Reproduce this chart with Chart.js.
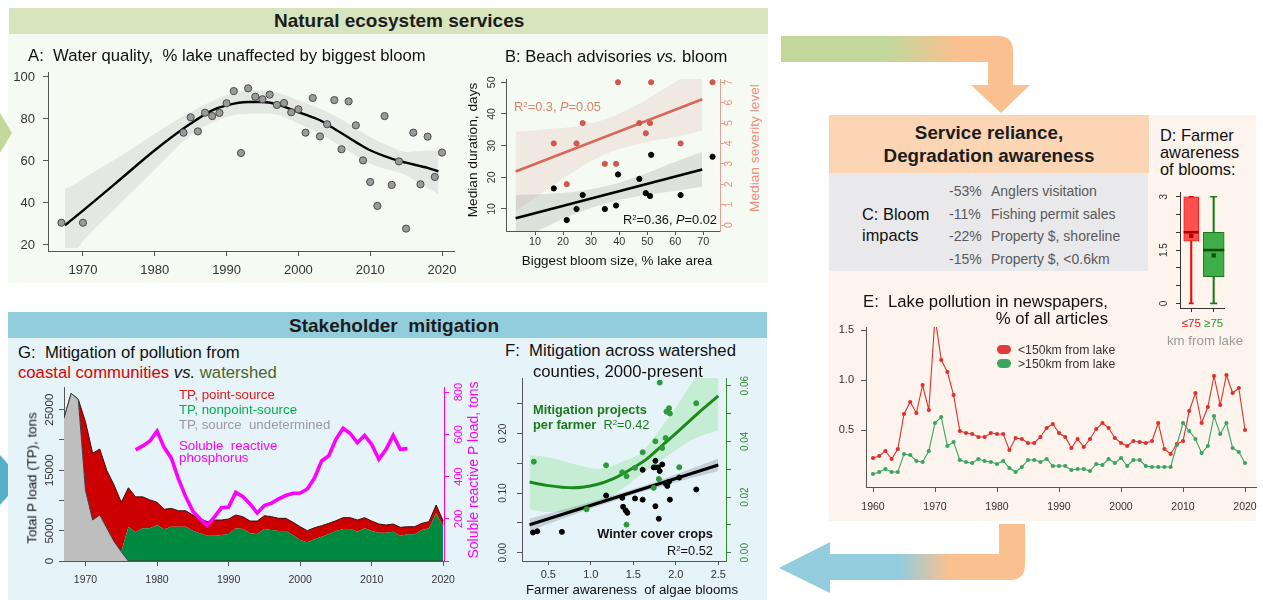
<!DOCTYPE html>
<html>
<head>
<meta charset="utf-8">
<title>Lake ecosystem services, awareness and mitigation</title>
<script src="https://cdn.jsdelivr.net/npm/chart.js@4.4.1/dist/chart.umd.min.js"></script>
<style>
  body { margin: 0; background: #fff; }
  #stage { position: relative; width: 1263px; height: 600px; overflow: hidden; font-family: "Liberation Sans", Arial, sans-serif; }
  .bg { position: absolute; }
  canvas { position: absolute; }
  .t { position: absolute; white-space: pre; line-height: 1; color: #111; }
  .cy { transform: translateY(-50%); }
  .cc { transform: translate(-50%, -50%); }
  .cr { transform: translate(-100%, -50%); }
  .rot { transform: translate(-50%, -50%) rotate(-90deg); }
  .hd { font-weight: bold; font-size: 19px; color: #1c1c1c; }
  .ttl { font-size: 16.7px; }
  sup { font-size: 0.62em; vertical-align: 0.5em; line-height: 0; }
</style>
</head>
<body>
<div id="stage">
  <!-- arrow tip entering the mitigation panel from the left -->
  <svg width="30" height="600" style="position:absolute;left:0;top:0">
    <polygon points="0,455 22,480 0,505" fill="#56b0c8"/>
  </svg>

  <!-- panel backgrounds -->
  <div class="bg" style="left:8px;top:34px;width:760px;height:249px;background:#f5fbf3"></div>
  <div class="bg" style="left:9px;top:8px;width:759px;height:26px;background:#d7e4bd"></div>
  <div class="bg" style="left:829px;top:115px;width:427px;height:406px;background:#fdf4ed"></div>
  <div class="bg" style="left:829px;top:115px;width:320px;height:58px;background:#fcd5b5"></div>
  <div class="bg" style="left:829px;top:173px;width:319px;height:98px;background:#e9e9ec"></div>
  <div class="bg" style="left:8px;top:338px;width:759px;height:262px;background:#e6f3f8"></div>
  <div class="bg" style="left:8px;top:312px;width:759px;height:26px;background:#92cddc"></div>

  <!-- flow arrows -->
  <svg width="1263" height="600" style="position:absolute;left:0;top:0">
    <defs>
      <linearGradient id="gTop" gradientUnits="userSpaceOnUse" x1="781" y1="0" x2="1013" y2="0">
        <stop offset="0.47" stop-color="#c4d79b"/>
        <stop offset="0.76" stop-color="#fac090"/>
      </linearGradient>
      <linearGradient id="gBot" gradientUnits="userSpaceOnUse" x1="779" y1="0" x2="1025" y2="0">
        <stop offset="0.49" stop-color="#93cddd"/>
        <stop offset="0.69" stop-color="#fac090"/>
      </linearGradient>
    </defs>
    <path d="M781,36 L998,36 Q1013,36 1013,51 L1013,85 L1030,85 L1001,113 L971,85 L988,85 L988,62 L781,62 Z" fill="url(#gTop)"/>
    <path d="M999,524 L1025,524 L1025,565 Q1025,580 1010,580 L830,580 L830,593 L779,568 L830,542 L830,554 L999,554 Z" fill="url(#gBot)"/>
    <polygon points="0,113 12,133 0,153" fill="#c4d79b"/>
  </svg>

  <!-- headers -->
  <div class="t cy hd" style="left:274px;top:20px">Natural ecosystem services</div>
  <div class="t cy hd" style="left:289px;top:324.5px">Stakeholder  mitigation</div>
  <div class="t cc" style="left:989px;top:133px;font-weight:bold;font-size:18.8px;color:#1c1c1c">Service reliance,</div>
  <div class="t cc" style="left:989px;top:156px;font-weight:bold;font-size:18.8px;color:#1c1c1c">Degradation awareness</div>

  <!-- A -->
  <div class="t cy ttl" style="left:28px;top:56px">A:  Water quality,  % lake unaffected by biggest bloom</div>

  <!-- B -->
  <div class="t cy" style="left:505px;top:57px;font-size:16.6px">B: Beach advisories <i>vs.</i> bloom</div>
  <div class="t cy" style="left:514px;top:107px;font-size:12.8px;color:#e0806e">R<sup>2</sup>=0.3, <i>P</i>=0.05</div>
  <div class="t cr" style="left:717px;top:220px;font-size:12.8px">R<sup>2</sup>=0.36, <i>P</i>=0.02</div>
  <div class="t cc" style="left:617px;top:261px;font-size:13.4px">Biggest bloom size, % lake area</div>
  <div class="t rot" style="left:473px;top:149.5px;font-size:13.7px">Median duration, days</div>
  <div class="t rot" style="left:755px;top:147.5px;font-size:13.7px;color:#f08c78">Median severity level</div>

  <!-- C -->
  <div class="t cy" style="left:862px;top:214px;font-size:16.4px">C: Bloom</div>
  <div class="t cy" style="left:862px;top:235px;font-size:16.4px">impacts</div>
  <div class="t cy" style="left:949px;top:191px;font-size:14px;color:#595959">-53%</div>
  <div class="t cy" style="left:991px;top:191px;font-size:14px;color:#595959">Anglers visitation</div>
  <div class="t cy" style="left:949px;top:213.5px;font-size:14px;color:#595959">-11%</div>
  <div class="t cy" style="left:991px;top:213.5px;font-size:14px;color:#595959">Fishing permit sales</div>
  <div class="t cy" style="left:949px;top:236px;font-size:14px;color:#595959">-22%</div>
  <div class="t cy" style="left:991px;top:236px;font-size:14px;color:#595959">Property $, shoreline</div>
  <div class="t cy" style="left:949px;top:258.5px;font-size:14px;color:#595959">-15%</div>
  <div class="t cy" style="left:991px;top:258.5px;font-size:14px;color:#595959">Property $, &lt;0.6km</div>

  <!-- D -->
  <div class="t cy" style="left:1160px;top:135px;font-size:16.4px">D: Farmer</div>
  <div class="t cy" style="left:1160px;top:152px;font-size:16.4px">awareness</div>
  <div class="t cy" style="left:1160px;top:169px;font-size:16.4px">of blooms:</div>
  <div class="t cc" style="left:1205px;top:341px;font-size:13.3px;color:#9a9a9a">km from lake</div>

  <!-- E -->
  <div class="t cy ttl" style="left:863px;top:302px">E:  Lake pollution in newspapers,</div>
  <div class="t cr ttl" style="left:1108px;top:319px">% of all articles</div>
  <div class="bg" style="left:997px;top:345px;width:14px;height:9px;border-radius:5px;background:#e03a3a"></div>
  <div class="bg" style="left:997px;top:359px;width:14px;height:9px;border-radius:5px;background:#3ca561"></div>
  <div class="t cy" style="left:1018px;top:349.5px;font-size:12.2px;color:#333">&lt;150km from lake</div>
  <div class="t cy" style="left:1018px;top:363.7px;font-size:12.2px;color:#333">&gt;150km from lake</div>

  <!-- G -->
  <div class="t cy ttl" style="left:18px;top:353px">G:  Mitigation of pollution from</div>
  <div class="t cy ttl" style="left:18px;top:373px"><span style="color:#dd0000">coastal communities</span> <i>vs.</i> <span style="color:#4f6228">watershed</span></div>
  <div class="t cy" style="left:179px;top:395px;font-size:13.3px;color:#e31a1c">TP, point-source</div>
  <div class="t cy" style="left:179px;top:410px;font-size:13.3px;color:#00b050">TP, nonpoint-source</div>
  <div class="t cy" style="left:179px;top:424.5px;font-size:13.3px;color:#9a9a9a">TP, source  undetermined</div>
  <div class="t cy" style="left:179px;top:446px;font-size:13.3px;color:#ff00ff">Soluble  reactive</div>
  <div class="t cy" style="left:179px;top:457.5px;font-size:13.3px;color:#ff00ff">phosphorus</div>
  <div class="t rot" style="left:32px;top:478px;font-size:13.3px">Total P load (TP), tons</div>
  <div class="t rot" style="left:473px;top:470px;font-size:14px;color:#ff00ff">Soluble reactive P load, tons</div>

  <!-- F -->
  <div class="t cy ttl" style="left:505px;top:351px">F:  Mitigation across watershed</div>
  <div class="t cy ttl" style="left:533px;top:372px">counties, 2000-present</div>
  <div class="t cy" style="left:533px;top:410px;font-size:12.8px;font-weight:bold;color:#1b7a1b">Mitigation projects</div>
  <div class="t cy" style="left:533px;top:425px;font-size:12.8px;color:#1b7a1b"><b>per farmer</b>  R<sup>2</sup>=0.42</div>
  <div class="t cr" style="left:713px;top:534px;font-size:12.8px;font-weight:bold">Winter cover crops</div>
  <div class="t cr" style="left:713px;top:551px;font-size:12.8px">R<sup>2</sup>=0.52</div>
  <div class="t cc" style="left:632px;top:590px;font-size:13.3px">Farmer awareness  of algae blooms</div>
</div>

<script>
// ---------- A: water quality ----------
const yearsA = [1967,1970,1984,1985,1986,1987,1988,1989,1990,1991,1992,1993,1994,1995,1996,1997,1998,1999,2000,2001,2002,2003,2004,2005,2006,2007,2008,2009,2010,2011,2012,2013,2014,2015,2016,2017,2018,2019,2020];
const unaffectedA = [30.6,30.6,73.5,80.8,74.1,83.0,81.4,82.9,87.5,93.3,63.8,94.6,90.6,89.4,91.6,86.7,87.6,83.2,84.6,73.5,90.0,71.7,77.5,89.0,65.6,88.4,77.0,60.3,50.0,38.6,81.4,48.6,59.8,27.8,73.5,48.9,71.6,52.4,64.0];
const fitYearsA = [1967.5,1970,1975,1980,1985,1988,1990,1993,1995,1997,2000,2003,2005,2008,2010,2013,2015,2018,2019.5];
const fitA = [29.4,36.4,50.7,65.1,77.8,84.1,86.5,88.1,88.1,87.0,83.3,79.4,75.4,69.0,65.1,61.1,59.2,56.7,55.1];
const bandYearsA = [1967.5,1969.2,1970,1975,1980,1985,1990,1993,1996,2000,2005,2010,2013,2015,2017,2019.5];
const upperA = [46.5,49.8,51.6,61.9,73.0,83.3,91.3,93.7,93.3,88.9,81.7,71.4,66.7,64.3,64.8,65.1];
const lowerA = [18.6,18.6,21.9,39.0,56.0,72.2,81.0,82.5,82.5,77.8,69.0,58.7,55.5,53.2,49.0,44.4];

// ---------- B: beach advisories ----------
const bloomB = [16.7,21.3,24.8,27.0,34.9,38.9,39.6,47.2,49.5,51.0,51.4,61.9,73.3];
const durationB = [16.5,6.5,10.0,14.4,10.0,11.1,20.9,19.5,15.0,14.1,27.1,14.4,26.5];
const severityB = [4.0,2.0,4.0,5.0,3.0,3.0,7.0,5.0,4.5,5.0,7.0,4.0,7.0];
const fitXB = [3.1,69.6];
const durFitB = [7.05,22.5];
const sevFitB = [2.62,6.17];
const bandXB = [3.1,15,25,37,50,60,69.6];
const durUpperB = [14.45,14.8,15.5,17.6,21.4,24.9,28.0];
const durLowerB = [-0.35,4.8,8.7,12.2,14.5,15.7,17.0];
const sevUpperB = [4.57,4.71,4.84,5.28,6.17,7.01,7.72];
const sevLowerB = [0.67,1.81,2.74,3.58,4.07,4.31,4.62];

// ---------- D: farmer awareness by distance ----------
const distGroups = ['\u226475','\u226575'];
const boxQ1 = [1.75,0.75];
const boxMedian = [2.0,1.5];
const boxQ3 = [3.0,2.0];
const boxMin = [0,0];
const boxMax = [3,3];
const boxMean = [1.9,1.35];

// ---------- E: newspaper coverage ----------
const yearsE = [1960,1961,1962,1963,1964,1965,1966,1967,1968,1969,1970,1971,1972,1973,1974,1975,1976,1977,1978,1979,1980,1981,1982,1983,1984,1985,1986,1987,1988,1989,1990,1991,1992,1993,1994,1995,1996,1997,1998,1999,2000,2001,2002,2003,2004,2005,2006,2007,2008,2009,2010,2011,2012,2013,2014,2015,2016,2017,2018,2019,2020];
const nearE = [0.22,0.24,0.29,0.21,0.31,0.66,0.78,0.67,0.95,0.70,1.63,1.20,1.08,0.85,0.49,0.47,0.46,0.43,0.43,0.47,0.46,0.46,0.30,0.42,0.41,0.37,0.37,0.43,0.52,0.56,0.47,0.43,0.32,0.41,0.33,0.41,0.51,0.57,0.52,0.42,0.37,0.34,0.39,0.38,0.37,0.39,0.57,0.31,0.26,0.36,0.39,0.69,0.87,0.57,0.73,1.04,0.75,1.05,0.87,0.92,0.50];
const farE = [0.06,0.08,0.11,0.08,0.08,0.26,0.25,0.19,0.18,0.29,0.57,0.63,0.34,0.38,0.20,0.18,0.17,0.21,0.19,0.18,0.16,0.19,0.12,0.08,0.13,0.20,0.20,0.18,0.21,0.14,0.14,0.14,0.10,0.11,0.11,0.09,0.16,0.15,0.21,0.17,0.22,0.14,0.20,0.20,0.14,0.13,0.13,0.13,0.13,0.35,0.57,0.49,0.41,0.27,0.34,0.64,0.46,0.57,0.32,0.28,0.17];

// ---------- G: phosphorus loads ----------
const yearsG = [1967,1968,1969,1970,1971,1972,1973,1974,1975,1976,1977,1978,1979,1980,1981,1982,1983,1984,1985,1986,1987,1988,1989,1990,1991,1992,1993,1994,1995,1996,1997,1998,1999,2000,2001,2002,2003,2004,2005,2006,2007,2008,2009,2010,2011,2012,2013,2014,2015,2016,2017,2018,2019,2020];
const undeterminedG = [23600,27700,26700,11700,6770,7600,5400,3200,1540,0,0,0,0,0,0,0,0,0,0,0,0,0,0,0,0,0,0,0,0,0,0,0,0,0,0,0,0,0,0,0,0,0,0,0,0,0,0,0,0,0,0,0,0,0];
const nonpointG = [0,0,0,0,0,0,0,0,0,5670,4740,5400,5400,5950,5230,5670,5670,5670,5010,4570,4180,4180,4300,4460,5400,5290,4570,4460,5290,5120,4960,4960,4300,3470,3080,3580,4020,4460,4960,5290,5290,4850,5400,4960,4680,4680,4850,4180,4400,4400,5120,5400,7870,5670];
const pointG = [0,0,0,11300,11030,10900,9500,9350,8160,6430,5860,5200,4700,3750,3310,3030,2630,2630,2590,2480,2320,2590,2470,2480,2200,2030,2030,2140,2200,2200,2090,2090,2090,2200,1930,1920,1820,1760,1700,1870,1870,1920,1760,1640,1430,1270,1260,1380,1270,1270,1100,1100,1380,930];
const yearsSRP = [1977,1978,1979,1980,1981,1982,1983,1984,1985,1986,1987,1988,1989,1990,1991,1992,1993,1994,1995,1996,1997,1998,1999,2000,2001,2002,2003,2004,2005,2006,2007,2008,2009,2010,2011,2012,2013,2014,2015];
const srpG = [526,545,568,615,537,487,388,305,236,200,169,208,252,255,325,305,270,227,263,274,294,310,321,322,341,393,474,498,576,628,604,560,595,552,482,529,595,529,532];

// ---------- F: mitigation vs awareness ----------
const awareCoverF = [0.32,0.37,0.66,1.18,1.37,1.38,1.41,1.43,1.52,1.61,1.61,1.74,1.76,1.76,1.79,1.81,1.80,1.84,1.88,1.90,1.92,1.93,2.04,2.24];
const coverCropsF = [0.034,0.036,0.035,0.096,0.092,0.077,0.071,0.067,0.091,0.139,0.089,0.143,0.154,0.078,0.143,0.137,0.057,0.148,0.116,0.112,0.119,0.089,0.126,0.106];
const awareProjF = [0.33,0.95,1.18,1.37,1.42,1.42,1.52,1.61,1.74,1.76,1.76,1.80,1.81,1.84,1.88,1.89,1.92,1.93,2.04,2.24];
const projectsF = [0.0327,0.0156,0.0314,0.0289,0.0275,0.0101,0.0305,0.0361,0.0233,0.0400,0.0307,0.0265,0.0611,0.0376,0.0412,0.0507,0.0519,0.0500,0.0307,0.0537];
const coverFitXF = [0.28,2.5];
const coverFitF = [0.047,0.147];
const coverBandXF = [0.28,1.0,1.6,2.0,2.5];
const coverUpperF = [0.057,0.085,0.111,0.131,0.158];
const coverLowerF = [0.037,0.074,0.102,0.118,0.137];
const projFitXF = [0.28,0.48,0.79,1.07,1.26,1.46,1.66,1.85,2.05,2.25,2.5];
const projFitF = [0.0254,0.0242,0.0233,0.0245,0.0265,0.0298,0.0337,0.0388,0.0442,0.0498,0.0563];
const projBandXF = [0.28,0.5,0.8,1.1,1.4,1.6,1.8,2.0,2.2,2.5];
const projUpperF = [0.0349,0.0343,0.0319,0.0301,0.0330,0.0361,0.0438,0.0521,0.0615,0.0720];
const projLowerF = [0.0155,0.0146,0.0146,0.0176,0.0236,0.0283,0.0325,0.0369,0.0408,0.0440];

// ---------- helpers ----------
const FONT = '"Liberation Sans", Arial, sans-serif';
const AX = '#555';
const NONE = 'rgba(0,0,0,0)';
Chart.defaults.font.family = FONT;

const pts = (xs, ys) => xs.map((x, i) => ({x, y: ys[i]}));

// rotated y tick labels, drawn at the scale's own tick positions
const ROT = {};
Chart.register({
  id: 'rotTicks',
  afterDraw(chart) {
    const list = ROT[chart.canvas.id];
    if (!list) return;
    const ctx = chart.ctx;
    list.forEach(a => {
      const s = chart.scales[a.axis];
      ctx.save();
      ctx.font = a.size + 'px ' + FONT;
      ctx.fillStyle = a.color;
      ctx.textAlign = 'center';
      ctx.textBaseline = 'middle';
      a.values.forEach((v, i) => {
        const y = s.getPixelForValue(v);
        const x = a.side === 'left' ? s.right - a.offset : s.left + a.offset;
        ctx.save();
        ctx.translate(x, y);
        ctx.rotate(-Math.PI / 2);
        ctx.fillText(a.labels[i], 0, 0);
        ctx.restore();
      });
      ctx.restore();
    });
  }
});

function axis(pos, min, max, ticks, o) {
  const horiz = pos === 'bottom';
  const col = o.axColor || AX;
  return {
    type: 'linear', position: pos, min, max,
    afterBuildTicks: s => { s.ticks = ticks.map(v => ({value: v})); },
    afterFit: s => {
      if (horiz) { s.height = o.size; s.paddingLeft = 0; s.paddingRight = 0; }
      else { s.width = o.size; s.paddingTop = 0; s.paddingBottom = 0; }
    },
    grid: {drawOnChartArea: false, drawTicks: true, tickLength: o.tl ?? 5, color: col, tickColor: col},
    border: {display: true, color: col, width: 1},
    ticks: {
      display: o.labels !== false, color: o.color || '#333',
      font: {family: FONT, size: o.fs || 12}, padding: o.pad ?? 4,
      autoSkip: false, maxRotation: 0, minRotation: 0,
      callback: o.fmt || (v => String(v))
    }
  };
}

function makeChart(id, area, m, cfg, hasRight) {
  const c = document.createElement('canvas');
  c.id = id;
  const w = area.r - area.l + m.l + m.r, h = area.b - area.t + m.t + m.b;
  c.width = w; c.height = h;
  c.style.left = (area.l - m.l) + 'px';
  c.style.top = (area.t - m.t) + 'px';
  c.style.width = w + 'px';
  c.style.height = h + 'px';
  document.getElementById('stage').insertBefore(c, document.querySelector('#stage > .t'));
  cfg.options = Object.assign({
    responsive: false, animation: false, events: [],
    layout: {padding: {left: 0, top: m.t, right: hasRight ? 0 : m.r, bottom: 0}},
    plugins: {legend: {display: false}, tooltip: {enabled: false}}
  }, cfg.options);
  return new Chart(c, cfg);
}

// ---------- A ----------
makeChart('chartA', {l: 48, t: 72, r: 454, b: 251}, {l: 48, t: 8, r: 10, b: 36}, {
  type: 'line',
  data: {datasets: [
    {data: pts(yearsA, unaffectedA), showLine: false, pointRadius: 3.6, pointBackgroundColor: '#9a9a9a', pointBorderColor: '#4a4a4a', pointBorderWidth: 1, order: 0},
    {data: pts(fitYearsA, fitA), borderColor: '#000', borderWidth: 2.4, pointRadius: 0, cubicInterpolationMode: 'monotone', order: 1},
    {data: pts(bandYearsA, upperA), borderColor: NONE, borderWidth: 0, pointRadius: 0, cubicInterpolationMode: 'monotone', fill: 3, backgroundColor: '#e3e9e2', order: 2},
    {data: pts(bandYearsA, lowerA), borderColor: NONE, borderWidth: 0, pointRadius: 0, cubicInterpolationMode: 'monotone', order: 3}
  ]},
  options: {scales: {
    x: axis('bottom', 1965.13, 2021.67, [1970,1980,1990,2000,2010,2020], {size: 36, fs: 13, pad: 7}),
    y: axis('left', 17.14, 102.38, [20,40,60,80,100], {size: 48, fs: 13, pad: 8})
  }}
});

// ---------- B ----------
ROT.chartB = [
  {axis: 'y', side: 'left', values: [10,20,30,40,50], labels: ['10','20','30','40','50'], offset: 14.3, size: 10.5, color: '#333'},
  {axis: 'y2', side: 'right', values: [0,1,2,3,4,5,6,7], labels: ['0','1','2','3','4','5','6','7'], offset: 9, size: 10.5, color: '#e8907e'}
];
makeChart('chartB', {l: 506, t: 79, r: 720, b: 231}, {l: 40, t: 6, r: 25, b: 22}, {
  type: 'line',
  data: {datasets: [
    {data: pts(bloomB, durationB), showLine: false, pointRadius: 2.6, pointBackgroundColor: '#000', pointBorderColor: '#000', yAxisID: 'y', order: 0},
    {data: pts(bloomB, severityB), showLine: false, pointRadius: 2.6, pointBackgroundColor: '#d0584e', pointBorderColor: '#d0584e', yAxisID: 'y2', order: 0},
    {data: pts(fitXB, durFitB), borderColor: '#000', borderWidth: 2.6, pointRadius: 0, yAxisID: 'y', order: 1},
    {data: pts(fitXB, sevFitB), borderColor: '#d9685a', borderWidth: 2.6, pointRadius: 0, yAxisID: 'y2', order: 1},
    {data: pts(bandXB, durUpperB), borderColor: NONE, borderWidth: 0, pointRadius: 0, cubicInterpolationMode: 'monotone', fill: 5, backgroundColor: 'rgba(110,130,115,0.2)', yAxisID: 'y', order: 2},
    {data: pts(bandXB, durLowerB), borderColor: NONE, borderWidth: 0, pointRadius: 0, cubicInterpolationMode: 'monotone', yAxisID: 'y', order: 3},
    {data: pts(bandXB, sevUpperB), borderColor: NONE, borderWidth: 0, pointRadius: 0, cubicInterpolationMode: 'monotone', fill: 7, backgroundColor: 'rgba(220,170,165,0.22)', yAxisID: 'y2', order: 2},
    {data: pts(bandXB, sevLowerB), borderColor: NONE, borderWidth: 0, pointRadius: 0, cubicInterpolationMode: 'monotone', yAxisID: 'y2', order: 3}
  ]},
  options: {scales: {
    x: axis('bottom', -0.34, 75.95, [10,20,30,40,50,60,70], {size: 22, fs: 10.8, pad: 1, tl: 4}),
    y: axis('left', 3.05, 51.04, [10,20,30,40,50], {size: 40, labels: false, tl: 5}),
    y2: axis('right', -0.294, 7.16, [0,1,2,3,4,5,6,7], {size: 25, labels: false, tl: 4, axColor: '#e6a395'})
  }}
}, true);

// ---------- D ----------
ROT.chartD = [
  {axis: 'y', side: 'left', values: [0,1.5,3], labels: ['0','1.5','3'], offset: 16, size: 10, color: '#333'}
];
makeChart('chartD', {l: 1180, t: 183, r: 1230, b: 308}, {l: 30, t: 4, r: 8, b: 24}, {
  type: 'bar',
  data: {labels: distGroups, datasets: [
    {data: [[boxMin[0], boxMax[0]], null], backgroundColor: '#ff0000', barThickness: 1.4, grouped: false, order: 6},
    {data: [null, [boxMin[1], boxMax[1]]], backgroundColor: '#1a7a1a', barThickness: 1.4, grouped: false, order: 6},
    {data: [[boxQ1[0], boxQ3[0]], null], backgroundColor: '#ff5050', borderColor: '#ff1a1a', borderWidth: 1, borderSkipped: false, barThickness: 15, grouped: false, order: 5},
    {data: [null, [boxQ1[1], boxQ3[1]]], backgroundColor: '#3fae49', borderColor: '#1a7a1a', borderWidth: 1, borderSkipped: false, barThickness: 21, grouped: false, order: 5},
    {type: 'line', data: boxMax, showLine: false, pointStyle: 'line', pointRadius: [2.5, 3.5], pointBorderWidth: 1.6, pointBorderColor: ['#ff0000', '#1a7a1a'], order: 4},
    {type: 'line', data: boxMin, showLine: false, pointStyle: 'line', pointRadius: [2.5, 3.5], pointBorderWidth: 1.6, pointBorderColor: ['#ff0000', '#1a7a1a'], order: 4},
    {type: 'line', data: boxMedian, showLine: false, pointStyle: 'line', pointRadius: [7.5, 10.5], pointBorderWidth: 2.6, pointBorderColor: ['#b00000', '#0b4d0b'], order: 3},
    {type: 'line', data: boxMean, showLine: false, pointStyle: 'rect', pointRadius: 3, pointBorderWidth: 0, pointBackgroundColor: ['#b00000', '#0b4d0b'], pointBorderColor: NONE, order: 2}
  ]},
  options: {scales: {
    x: {
      type: 'category', position: 'bottom', offset: true,
      afterFit: s => { s.height = 24; s.paddingLeft = 0; s.paddingRight = 0; },
      grid: {drawOnChartArea: false, drawTicks: true, tickLength: 4, offset: false, color: '#333'},
      border: {display: true, color: '#333'},
      ticks: {font: {family: FONT, size: 11.5}, padding: 5, autoSkip: false, maxRotation: 0,
              color: c => (c.index === 0 ? '#e31a1c' : '#2a9a2a')}
    },
    y: axis('left', -0.13, 3.13, [0,0.5,1,1.5,2,2.5,3], {size: 30, labels: false, tl: 4, axColor: '#333'})
  }}
});

// ---------- E ----------
makeChart('chartE', {l: 866, t: 327, r: 1256, b: 487}, {l: 36, t: 5, r: 4, b: 30}, {
  type: 'line',
  data: {datasets: [
    {data: pts(yearsE, farE), borderColor: '#3aa462', borderWidth: 1.1, pointRadius: 2.1, pointBackgroundColor: '#3aa462', pointBorderWidth: 0},
    {data: pts(yearsE, nearE), borderColor: '#e0302e', borderWidth: 1.1, pointRadius: 2.1, pointBackgroundColor: '#e0302e', pointBorderWidth: 0}
  ]},
  options: {scales: {
    x: axis('bottom', 1958.87, 2021.77, [1960,1970,1980,1990,2000,2010,2020], {size: 30, fs: 10.5, pad: 9}),
    y: axis('left', -0.07, 1.53, [0.5,1.0,1.5], {size: 36, fs: 11, pad: 7, fmt: v => v.toFixed(1)})
  }}
});

// ---------- G ----------
ROT.chartG = [
  {axis: 'y', side: 'left', values: [0,5000,15000,25000], labels: ['0','5000','15000','25000'], offset: 14, size: 11.5, color: '#333'},
  {axis: 'y2', side: 'right', values: [200,400,600,800], labels: ['200','400','600','800'], offset: 15, size: 11, color: '#ff00ff'}
];
makeChart('chartG', {l: 64, t: 387, r: 444, b: 561}, {l: 64, t: 4, r: 36, b: 36}, {
  type: 'line',
  data: {datasets: [
    {data: pts(yearsG, undeterminedG), fill: 'origin', backgroundColor: '#bebebe', borderColor: '#3a3a3a', borderWidth: 1, pointRadius: 0},
    {data: pts(yearsG, nonpointG), fill: '-1', backgroundColor: '#00893f', borderColor: NONE, borderWidth: 0, pointRadius: 0},
    {data: pts(yearsG, pointG), fill: '-1', backgroundColor: '#cc0000', borderColor: '#3a1010', borderWidth: 1, pointRadius: 0},
    {data: pts(yearsSRP, srpG), yAxisID: 'y2', fill: false, borderColor: '#ff00ff', borderWidth: 3.6, pointRadius: 0, order: -1}
  ]},
  options: {scales: {
    x: axis('bottom', 1967, 2020.1, [1970,1980,1990,2000,2010,2020], {size: 36, fs: 10.5, pad: 8}),
    y: Object.assign(axis('left', 0, 28751, [0,5000,10000,15000,20000,25000], {size: 64, labels: false}), {stacked: true}),
    y2: axis('right', 0, 824, [0,200,400,600,800], {size: 36, labels: false, axColor: '#ff00ff'})
  }}
}, true);

// ---------- F ----------
ROT.chartF = [
  {axis: 'y', side: 'left', values: [0,0.1,0.2], labels: ['0.00','0.10','0.20'], offset: 19, size: 10, color: '#333'},
  {axis: 'y2', side: 'right', values: [0,0.02,0.04,0.06], labels: ['0.00','0.02','0.04','0.06'], offset: 19, size: 10, color: '#2e8b2e'}
];
makeChart('chartF', {l: 522, t: 377, r: 726, b: 561}, {l: 30, t: 4, r: 30, b: 25}, {
  type: 'line',
  data: {datasets: [
    {data: pts(awareCoverF, coverCropsF), showLine: false, pointRadius: 2.5, pointBackgroundColor: '#000', pointBorderColor: '#000', yAxisID: 'y', order: 0},
    {data: pts(awareProjF, projectsF), showLine: false, pointRadius: 2.5, pointBackgroundColor: '#2a9a3a', pointBorderColor: '#2a9a3a', yAxisID: 'y2', order: 0},
    {data: pts(coverFitXF, coverFitF), borderColor: '#000', borderWidth: 3, pointRadius: 0, yAxisID: 'y', order: 1},
    {data: pts(projFitXF, projFitF), borderColor: '#1a8a1a', borderWidth: 3, pointRadius: 0, cubicInterpolationMode: 'monotone', yAxisID: 'y2', order: 1},
    {data: pts(coverBandXF, coverUpperF), borderColor: NONE, borderWidth: 0, pointRadius: 0, fill: 5, backgroundColor: 'rgba(60,70,80,0.2)', yAxisID: 'y', order: 2},
    {data: pts(coverBandXF, coverLowerF), borderColor: NONE, borderWidth: 0, pointRadius: 0, yAxisID: 'y', order: 3},
    {data: pts(projBandXF, projUpperF), borderColor: NONE, borderWidth: 0, pointRadius: 0, cubicInterpolationMode: 'monotone', fill: 7, backgroundColor: 'rgba(120,225,130,0.3)', yAxisID: 'y2', order: 2},
    {data: pts(projBandXF, projLowerF), borderColor: NONE, borderWidth: 0, pointRadius: 0, cubicInterpolationMode: 'monotone', yAxisID: 'y2', order: 3}
  ]},
  options: {scales: {
    x: axis('bottom', 0.191, 2.59, [0.5,1.0,1.5,2.0,2.5], {size: 25, fs: 11, pad: 3, tl: 4, fmt: v => v.toFixed(1)}),
    y: axis('left', -0.0138, 0.2928, [0,0.05,0.10,0.15,0.20,0.25], {size: 30, labels: false, tl: 5}),
    y2: axis('right', -0.00296, 0.06275, [0,0.01,0.02,0.03,0.04,0.05,0.06], {size: 30, labels: false, tl: 5, axColor: '#2e8b2e'})
  }}
}, true);
</script>
</body>
</html>
